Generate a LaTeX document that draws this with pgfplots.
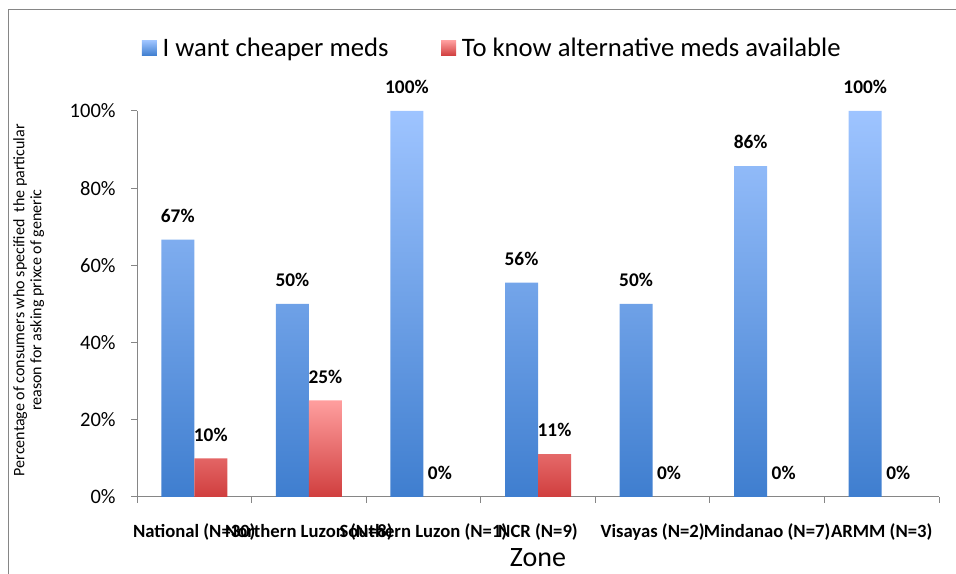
\documentclass[border=0pt]{standalone}
\usepackage{fontspec}
\setmainfont{Carlito}
\usepackage{pgfplots}
\pgfplotsset{compat=1.18}

\definecolor{blueTop}{HTML}{9EC4FF}
\definecolor{blueBot}{HTML}{3F7ECF}
\definecolor{redTop}{HTML}{FF9E9E}
\definecolor{redBot}{HTML}{D03E3E}
\definecolor{axisGray}{HTML}{868686}

\pgfplotsset{
  shadedbar/.style={
    ybar, bar width=24.75pt, draw=none,
    legend image code/.code={%
      \path[##1,draw=none] (0pt,-5.6pt) rectangle (11.25pt,5.6pt);
      \path (0pt,0pt) -- (14pt,0pt);}
  },
  leftbar/.style={bar shift=-12.375pt,
    every node near coord/.append style={xshift=-12.375pt}},
  rightbar/.style={bar shift=12.375pt,
    every node near coord/.append style={xshift=12.375pt}},
}

% 1px = 0.75pt; picture 956x574 px = 717pt x 430.5pt
\begin{document}
\begin{tikzpicture}
\useasboundingbox (0pt,0pt) rectangle (717pt,430.5pt);
\draw[axisGray, line width=0.75pt] (6pt,0pt) -- (6pt,423pt) -- (717pt,423pt);
\begin{axis}[
    at={(102.75pt,57.75pt)}, anchor=south west,
    scale only axis,
    width=601.5pt, height=289.5pt,
    xmin=-0.5, xmax=6.5, ymin=0, ymax=100,
    axis x line*=bottom, axis y line*=left,
    axis line style={-, axisGray, line width=0.75pt},
    tick style={axisGray, line width=0.75pt},
    tick align=outside, major tick length=4.5pt,
    xtick={-0.5,0.5,...,6.5},
    x tick label as interval,
    xticklabels={National (N=30), Northern Luzon (N=8), Southern Luzon (N=1),
                 NCR (N=9), Visayas (N=2), Mindanao (N=7), ARMM (N=3)},
    xticklabel style={font=\fontsize{14}{16}\selectfont\bfseries, yshift=-12pt},
    ytick={0,20,...,100},
    yticklabels={0\%,20\%,40\%,60\%,80\%,100\%},
    yticklabel style={font=\fontsize{15.4}{18}\selectfont, xshift=-8pt},
    xlabel={Zone},
    xlabel style={font=\fontsize{21}{24}\selectfont, at={(axis description cs:0.5,-0.158)}, anchor=center},
    ylabel={Percentage of consumers who specified\ \ the particular\\reason for asking prixce of generic},
    ylabel style={font=\fontsize{12}{12.75}\selectfont, align=center,
                  at={(axis description cs:-0.135,0.51)}, anchor=center},
    /pgf/number format/assume math mode=true,
    nodes near coords={\pgfmathprintnumber[fixed,precision=0]{\pgfplotspointmeta}\%},
    every node near coord/.append style={font=\fontsize{14.5}{17}\selectfont\bfseries,
                                         text=black, yshift=9.3pt},
    legend style={at={(axis description cs:0.443,1.163)}, anchor=center, draw=none,
                  legend columns=2, font=\fontsize{20}{23}\selectfont,
                  nodes={inner sep=1.5pt},
                  /tikz/every even column/.append style={column sep=38pt}},
    legend cell align=left,
]
\addplot[shadedbar, leftbar, top color=blueTop, bottom color=blueBot]
    coordinates {(0,66.67) (1,50) (2,100) (3,55.56) (4,50) (5,85.71) (6,100)};
\addplot[shadedbar, rightbar, top color=redTop, bottom color=redBot]
    coordinates {(0,10) (1,25) (3,11.11)};
% zero values of the second series: labels only
\addplot[ybar, bar width=24.75pt, rightbar, draw=none, fill=none, forget plot]
    coordinates {(2,0) (4,0) (5,0) (6,0)};
\legend{I want cheaper meds, To know alternative meds available}
\end{axis}
\end{tikzpicture}
\end{document}
